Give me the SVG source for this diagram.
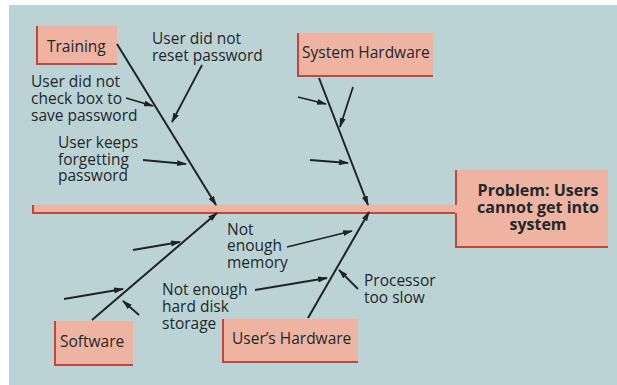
<svg xmlns="http://www.w3.org/2000/svg" width="617" height="385" viewBox="0 0 617 385">
  <defs>
    <marker id="ah" viewBox="0 0 10 6" refX="9" refY="3" markerWidth="10" markerHeight="6" markerUnits="userSpaceOnUse" orient="auto">
      <path d="M0,0 L10,3 L0,6 z" fill="#1e2326"/>
    </marker>
    <style>
      .lbl { font-family: "Open Sans", "Noto Sans", sans-serif; font-size: 15.5px; fill: #22282b; }
      .box { fill: #efb3a2; }
      .edge { stroke: #c0463e; stroke-width: 2; fill: none; }
      .bone { stroke: #1e2326; stroke-width: 2; fill: none; marker-end: url(#ah); }
      .twig { stroke: #1e2326; stroke-width: 1.8; fill: none; marker-end: url(#ah); }
      .title { font-weight: bold; text-anchor: middle; font-size: 16px; }
    </style>
  </defs>

  <rect x="0" y="0" width="617" height="385" fill="#ffffff"/>
  <rect x="9" y="5" width="608" height="380" fill="#bcd3d5"/>

  <!-- spine -->
  <g id="spine">
    <rect class="box" x="32" y="205" width="424" height="8"/>
    <path class="edge" d="M33,205 V213 H456"/>
  </g>

  <!-- effect box -->
  <g id="problem">
    <rect class="box" x="455" y="170" width="153" height="78"/>
    <path class="edge" d="M456,170 V205 M456,213 V247 H608"/>
    <text class="lbl title" x="538" y="196">Problem: Users</text>
    <text class="lbl title" x="538" y="213">cannot get into</text>
    <text class="lbl title" x="538" y="230">system</text>
  </g>

  <!-- cause categories -->
  <g id="training">
    <rect class="box" x="36" y="26" width="81" height="39"/>
    <path class="edge" d="M37,26 V64 H117"/>
    <text class="lbl" x="47" y="52">Training</text>
  </g>

  <g id="system-hardware">
    <rect class="box" x="297" y="33" width="136" height="44"/>
    <path class="edge" d="M298,33 V76 H433"/>
    <text class="lbl" x="302" y="58">System Hardware</text>
  </g>

  <g id="software">
    <rect class="box" x="54" y="321" width="79" height="45"/>
    <path class="edge" d="M55,321 V365 H133"/>
    <text class="lbl" x="60" y="347">Software</text>
  </g>

  <g id="users-hardware">
    <rect class="box" x="222" y="319" width="136" height="44"/>
    <path class="edge" d="M223,319 V362 H358"/>
    <text class="lbl" x="232" y="344">User’s Hardware</text>
  </g>

  <!-- cause labels -->
  <g id="causes">
    <text class="lbl" x="152" y="44">User did not</text>
    <text class="lbl" x="152" y="61">reset password</text>

    <text class="lbl" x="31" y="87">User did not</text>
    <text class="lbl" x="31" y="104">check box to</text>
    <text class="lbl" x="31" y="121">save password</text>

    <text class="lbl" x="58" y="148">User keeps</text>
    <text class="lbl" x="58" y="165">forgetting</text>
    <text class="lbl" x="58" y="181">password</text>

    <text class="lbl" x="227" y="235">Not</text>
    <text class="lbl" x="227" y="251">enough</text>
    <text class="lbl" x="227" y="268">memory</text>

    <text class="lbl" x="162" y="295">Not enough</text>
    <text class="lbl" x="162" y="312">hard disk</text>
    <text class="lbl" x="162" y="329">storage</text>

    <text class="lbl" x="364" y="286">Processor</text>
    <text class="lbl" x="364" y="303">too slow</text>
  </g>

  <!-- connectors -->
  <g id="connectors">
    <path class="bone" d="M117,44 L216,205"/>
    <path class="bone" d="M319,78 L368,205"/>
    <path class="bone" d="M92,320 L217,213"/>
    <path class="bone" d="M308,318 L369,212"/>

    <path class="twig" d="M202,65 L172,122"/>
    <path class="twig" d="M126,98 L153,106"/>
    <path class="twig" d="M143,160 L186,164"/>

    <path class="twig" d="M298,97 L326,104"/>
    <path class="twig" d="M353,87 L340,127"/>
    <path class="twig" d="M310,160 L348,163"/>

    <path class="twig" d="M133,250 L180,242"/>
    <path class="twig" d="M64,299 L123,289"/>
    <path class="twig" d="M139,315 L123,301"/>

    <path class="twig" d="M287,247 L352,231"/>
    <path class="twig" d="M255,290 L327,278"/>
    <path class="twig" d="M358,289 L339,270"/>
  </g>
</svg>
